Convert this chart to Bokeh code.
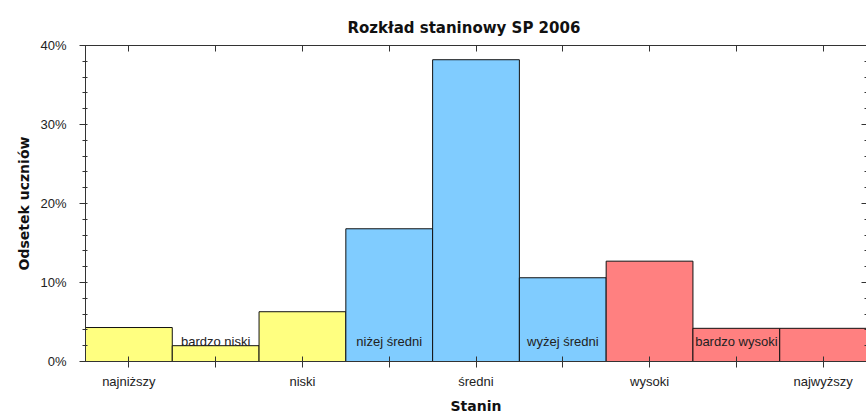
from bokeh.plotting import figure
from bokeh.models import (ColumnDataSource, Range1d, LinearAxis, FixedTicker,
                          SingleIntervalTicker, PrintfTickFormatter)
from bokeh.embed import file_html
from bokeh.resources import INLINE
from bokeh.core.properties import value

# ---- data ----
chart_title = "Rozkład staninowy SP 2006"
x_title = "Stanin"
y_title = "Odsetek uczniów"
stanines = [1, 2, 3, 4, 5, 6, 7, 8, 9]
categories = ["najniższy", "bardzo niski", "niski", "niżej średni", "średni",
              "wyżej średni", "wysoki", "bardzo wysoki", "najwyższy"]
values = [4.3, 2.0, 6.3, 16.8, 38.2, 10.6, 12.7, 4.2, 4.2]
y_ticks = [0, 10, 20, 30, 40]
group_palette = ["#FFFF80", "#80CCFF", "#FF8080"]

colors = [group_palette[(s - 1) // 3] for s in stanines]
src = ColumnDataSource(dict(x=stanines, top=values, color=colors))

inner_x = [s for s in stanines if s % 2 == 0]
inner_txt = [c for s, c in zip(stanines, categories) if s % 2 == 0]
inner_y = [0 for _ in inner_x]
inner_src = ColumnDataSource(dict(x=inner_x, y=inner_y, t=inner_txt))

AX = "#333333"
SANS = "Liberation Sans"
BOLD = "DejaVu Sans"

p = figure(width=866, height=416, output_backend="svg", toolbar_location=None,
           x_range=Range1d(0.5, 9.5), y_range=Range1d(0, 40),
           min_border_left=85, min_border_right=0, min_border_top=45,
           min_border_bottom=54, x_axis_label=x_title, y_axis_label=y_title)
p.grid.visible = False
p.outline_line_color = None
p.background_fill_color = "white"
p.border_fill_color = "white"

p.vbar(x="x", top="top", bottom=0, width=1, fill_color="color",
       line_color="#111111", line_width=1, source=src)

p.text(x="x", y="y", text="t", source=inner_src, y_offset=-20,
       text_align="center", text_baseline="middle",
       text_font=value(SANS), text_font_size="13px", text_color="#222222")

# bottom axis
xa = p.below[0]
xa.ticker = FixedTicker(ticks=stanines)
xa.major_label_overrides = {s: (c if s % 2 == 1 else "") for s, c in zip(stanines, categories)}
xa.major_tick_in = 5
xa.major_tick_out = 6
xa.minor_tick_line_color = None
xa.major_label_standoff = 6
xa.major_label_text_font = SANS
xa.major_label_text_font_size = "13px"
xa.major_label_text_color = "#222222"
xa.axis_label_standoff = 6
xa.axis_label_text_font = BOLD
xa.axis_label_text_font_style = "bold"
xa.axis_label_text_font_size = "14px"
xa.axis_label_text_color = "#111111"
xa.axis_line_color = AX
xa.major_tick_line_color = AX

# left axis
ya = p.left[0]
ya.ticker = SingleIntervalTicker(interval=10, num_minor_ticks=5)
ya.formatter = PrintfTickFormatter(format="%d%%")
ya.major_tick_in = 1
ya.major_tick_out = 6
ya.minor_tick_in = 2
ya.minor_tick_out = 3
ya.major_label_standoff = 13
ya.major_label_text_font = SANS
ya.major_label_text_font_size = "13px"
ya.major_label_text_color = "#222222"
ya.axis_label_standoff = 5
ya.axis_label_text_font = BOLD
ya.axis_label_text_font_style = "bold"
ya.axis_label_text_font_size = "14px"
ya.axis_label_text_color = "#111111"
ya.axis_line_color = AX
ya.major_tick_line_color = AX
ya.minor_tick_line_color = AX

# top axis (ticks only)
ta = LinearAxis(ticker=FixedTicker(ticks=stanines), major_tick_in=6, major_tick_out=0,
                minor_tick_line_color=None, major_label_text_font_size="1px",
                major_label_text_color=None,
                major_label_standoff=0, axis_line_color=AX, major_tick_line_color=AX)
p.add_layout(ta, "above")

# right axis (ticks only)
ra = LinearAxis(ticker=SingleIntervalTicker(interval=10, num_minor_ticks=5),
                major_tick_in=5, major_tick_out=0, minor_tick_in=2, minor_tick_out=0,
                major_label_text_font_size="1px", major_label_text_color=None,
                major_label_standoff=0,
                axis_line_color=AX, major_tick_line_color=AX, minor_tick_line_color=AX)
p.add_layout(ra, "right")

p.title.text = chart_title
p.title.align = "left"
p.title.offset = 262
p.title.text_font = BOLD
p.title.text_font_size = "15px"
p.title.text_font_style = "bold"
p.title.text_color = "#111111"
p.title.standoff = 18

open("out.html", "w").write(file_html(p, INLINE))
